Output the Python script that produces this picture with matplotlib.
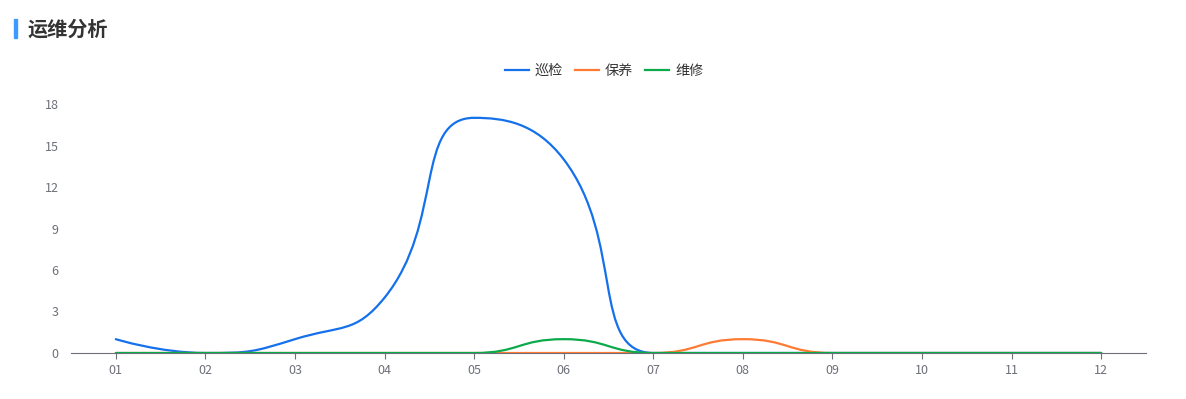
import numpy as np
import matplotlib
matplotlib.use('Agg')
import matplotlib.pyplot as plt
from matplotlib.path import Path
from matplotlib.patches import PathPatch, Rectangle
from matplotlib.lines import Line2D

plt.rcParams['font.family'] = ['Noto Sans CJK SC', 'DejaVu Sans']

# 数据
months = ['01', '02', '03', '04', '05', '06', '07', '08', '09', '10', '11', '12']
xunjian = [1, 0, 1, 4, 17, 14, 0, 0, 0, 0, 0, 0]
baoyang = [0, 0, 0, 0, 0, 0, 0, 1, 0, 0, 0, 0]
weixiu = [0, 0, 0, 0, 0, 1, 0, 0, 0, 0, 0, 0]
series_names = ['巡检', '保养', '维修']
colors = ['#1470EB', '#FF7A33', '#0DAA4B']
yticks = [0, 3, 6, 9, 12, 15, 18]

fig = plt.figure(figsize=(11.86, 3.99), dpi=100)
ax = fig.add_axes([71 / 1186, 46 / 399, 1075 / 1186, 249 / 399])
ax.set_xlim(-0.5, len(months) - 0.5)
ax.set_ylim(0, 18)


def smooth_path(xs, ys, smooth=0.5):
    # 平滑曲线 (类似 echarts smooth), 在像素坐标中计算控制点
    pts = ax.transData.transform(np.column_stack([xs, ys]))
    n = len(pts)
    verts = [tuple(pts[0])]
    codes = [Path.MOVETO]
    cpx0, cpy0 = pts[0]
    prevX, prevY = pts[0]
    for k in range(1, n):
        x, y = pts[k]
        if k >= n - 1:
            cpx1, cpy1 = x, y
            nextCpx0, nextCpy0 = x, y
        else:
            nextX, nextY = pts[k + 1]
            vx = nextX - prevX
            vy = nextY - prevY
            lenPrev = np.hypot(x - prevX, y - prevY)
            lenNext = np.hypot(nextX - x, nextY - y)
            ratio = lenNext / (lenNext + lenPrev)
            nextCpx0 = x + vx * smooth * ratio
            nextCpy0 = y + vy * smooth * ratio
            nextCpx0 = min(nextCpx0, max(nextX, x))
            nextCpy0 = min(nextCpy0, max(nextY, y))
            nextCpx0 = max(nextCpx0, min(nextX, x))
            nextCpy0 = max(nextCpy0, min(nextY, y))
            vx = nextCpx0 - x
            vy = nextCpy0 - y
            cpx1 = x - vx * lenPrev / lenNext
            cpy1 = y - vy * lenPrev / lenNext
            cpx1 = min(cpx1, max(prevX, x))
            cpy1 = min(cpy1, max(prevY, y))
            cpx1 = max(cpx1, min(prevX, x))
            cpy1 = max(cpy1, min(prevY, y))
            vx = x - cpx1
            vy = y - cpy1
            nextCpx0 = x + vx * lenNext / lenPrev
            nextCpy0 = y + vy * lenNext / lenPrev
        verts += [(cpx0, cpy0), (cpx1, cpy1), (x, y)]
        codes += [Path.CURVE4] * 3
        cpx0, cpy0 = nextCpx0, nextCpy0
        prevX, prevY = x, y
    verts = ax.transData.inverted().transform(np.array(verts))
    return Path(verts, codes)


x = np.arange(len(months))
for vals, c in zip([xunjian, baoyang, weixiu], colors):
    ax.add_patch(PathPatch(smooth_path(x, vals), facecolor='none', edgecolor=c,
                           lw=1.6, capstyle='round', joinstyle='round', zorder=3))

# 坐标轴
for s in ['top', 'right', 'left']:
    ax.spines[s].set_visible(False)
ax.spines['bottom'].set_color('#6E7079')
ax.spines['bottom'].set_linewidth(0.8)
ax.set_xticks(x)
ax.set_xticklabels(months)
ax.set_yticks(yticks)
ax.set_yticklabels([str(v) for v in yticks])
ax.tick_params(axis='x', colors='#6E7079', labelcolor='#6E7079', length=4, width=0.8,
               labelsize=9, pad=4)
ax.tick_params(axis='y', length=0, labelcolor='#6E7079', labelsize=9, pad=9)

# 图例
handles = [Line2D([], [], color=c, lw=1.6) for c in colors]
fig.legend(handles, series_names, loc='center', bbox_to_anchor=(604 / 1186, 1 - 71 / 399),
           ncol=3, frameon=False, fontsize=10.2, handlelength=1.75, handletextpad=0.4,
           columnspacing=0.8, labelcolor='#333333')

# 标题
fig.patches.append(Rectangle((14 / 1186, 1 - 38 / 399), 3 / 1186, 19 / 399,
                             transform=fig.transFigure, color='#3D9BFF'))
fig.text(28 / 1186, 1 - 29 / 399, '运维分析', fontsize=14.5, fontweight='bold',
         color='#333333', va='center', ha='left')

fig.savefig('out.png', dpi=100)
